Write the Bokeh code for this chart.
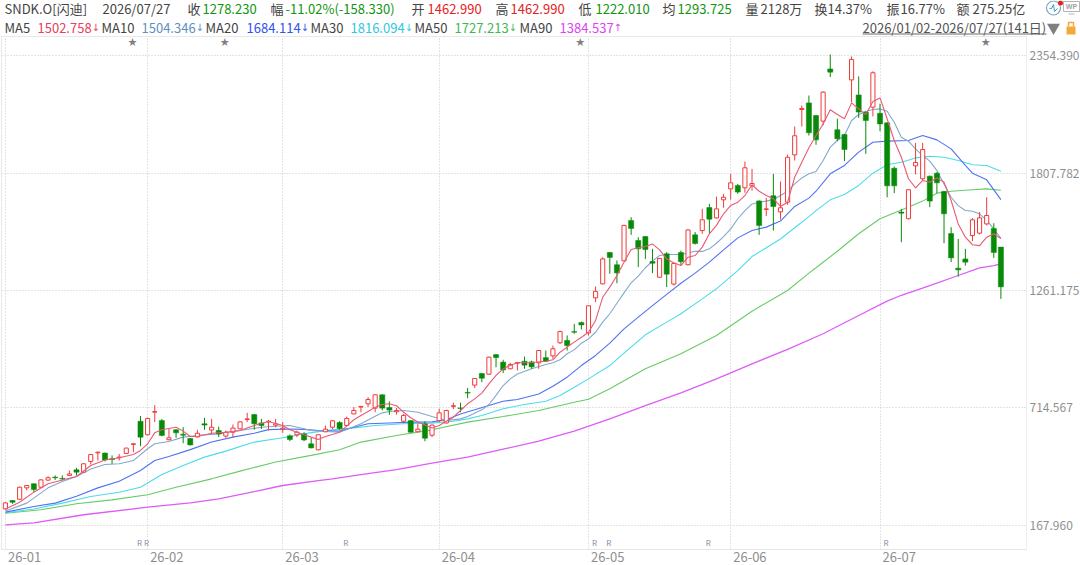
from bokeh.plotting import figure
from bokeh.layouts import column
from bokeh.models import Range1d, FixedTicker, PrintfTickFormatter, LinearAxis
from bokeh.core.properties import value
from bokeh.embed import file_html
from bokeh.resources import INLINE

month_idx = [0, 20, 39, 61, 82, 102, 123]
month_lbl = ["26-01", "26-02", "26-03", "26-04", "26-05", "26-06", "26-07"]
price_ticks = [167.96, 714.567, 1261.175, 1807.782, 2354.39]
star_idx = [18, 31, 81, 138]
r_idx = [19, 20, 48, 83, 85, 99, 124]

opens = [245,284,290,343,362,346,379,393,387,401, 427,416,466,506,505,478,483,503,545,653, 590,695,656,567,613,593,573,580,641,612, 610,584,602,618,661,684,645,650,635,617, 585,590,594,548,520,604,625,647,633,687, 719,734,714,776,717,697,653,656,604,641, 588,656,645,722,715,787,821,875,872,963, 928,897,923,932,929,925,949,957,1018,1029, 1070,1112,1064,1227,1292,1438,1381,1399,1587,1494, 1512,1396,1323,1432,1291,1438,1381,1520,1540,1647, 1599,1683,1734,1750,1739,1748,1678,1638,1702,1627, 1672,1892,2103,2134,2075,2049,2292,2009,1987,2241, 2171,2091,2114,2086,2041,1830,1626,1595,1841,1781, 1793,1807,1722,1526,1365,1408,1517,1528,1571,1550,1462.99]
highs = [276,287,349,356,364,383,397,401,401,424, 436,457,500,512,507,494,501,530,551,677, 669,728,664,618,616,625,575,613,669,664, 628,610,638,652,692,686,664,659,664,649, 591,610,602,576,592,633,657,653,675,719, 724,765,778,778,745,715,687,658,641,653, 637,711,706,739,739,808,854,877,953,966, 939,925,929,954,935,984,982,1005,1075,1052, 1106,1117,1192,1280,1416,1441,1401,1567,1602,1509, 1515,1455,1413,1440,1390,1447,1546,1533,1641,1664, 1698,1711,1804,1757,1861,1827,1681,1692,1804,1768, 1894,2024,2122,2168,2078,2188,2359,2060,1990,2350, 2257,2094,2281,2130,2044,1838,1641,1733,1948,1948, 1796,1812,1725,1556,1501,1455,1598,1626,1695,1574,1462.99]
lows = [242,269,288,331,323,344,377,380,377,399, 400,413,452,470,466,455,470,501,509,537, 587,649,583,564,576,551,540,578,613,594, 579,576,579,615,649,614,617,610,625,599, 560,579,560,527,518,602,616,613,630,685, 695,719,695,703,683,684,644,600,602,560, 579,649,642,709,695,760,807,835,870,904, 877,895,889,897,897,897,928,943,1013,982, 1060,1080,1052,1207,1290,1339,1295,1397,1520,1370, 1408,1342,1320,1277,1284,1377,1378,1475,1525,1528, 1596,1646,1684,1711,1716,1726,1520,1607,1540,1591, 1660,1866,2024,1982,1939,2029,2254,1956,1863,2137, 2064,1897,2071,2002,1695,1714,1486,1592,1801,1773, 1649,1714,1481,1393,1326,1377,1491,1522,1564,1413,1222.01]
closes = [273,276,346,354,335,380,390,390,384,408, 416,455,498,509,473,475,486,528,548,579, 666,698,587,576,599,588,543,597,635,625, 594,602,621,650,664,641,633,653,641,621, 568,602,566,529,590,616,655,619,666,703, 722,754,776,714,705,703,680,602,616,574, 635,692,703,725,712,784,852,853,951,949, 892,917,926,914,906,982,932,990,1070,1005, 1067,1101,1190,1257,1408,1415,1343,1564,1550,1455, 1452,1388,1410,1337,1387,1395,1543,1480,1590,1593, 1641,1695,1762,1719,1832,1759,1564,1641,1652,1646, 1881,1981,2108,1995,1962,2184,2277,1967,1917,2336, 2091,2052,2274,2036,1748,1748,1621,1730,1857,1917, 1677,1762,1618,1413,1357,1393,1590,1599,1610,1438,1278.23]

ma5_i = [0,2,4,6,8,10,12,14,16,18,19,20,21,22,24,25,26,27,29,31,33,35,37,39,40,42,43,44,45,46,47,48,49,50,51,52,53,54,55,56,57,58,59,60,61,62,63,64,65,66,67,68,69,70,71,72,74,76,77,78,79,80,81,82,83,84,85,86,87,88,89,90,91,92,93,94,95,96,97,98,99,100,101,102,103,104,105,106,107,108,109,110,111,112,113,114,115,116,117,118,119,120,121,122,123,124,125,126,127,128,129,130,131,132,133,134,135,136,137,138,139,140]
ma5_v = [245,276,323,362,380,396,447,473,483,498,517,548,599,613,625,607,582,582,597,602,610,633,652,633,613,590,579,568,582,591,602,630,660,680,698,718,731,734,725,695,669,649,636,622,633,653,672,703,734,757,784,827,866,897,912,925,926,932,939,974,998,1021,1044,1067,1122,1230,1277,1331,1393,1452,1460,1466,1478,1450,1408,1390,1377,1416,1424,1463,1525,1564,1618,1657,1672,1703,1753,1723,1703,1688,1652,1672,1788,1858,1925,1982,2036,2102,2080,2060,2134,2106,2080,2140,2157,2060,1959,1881,1781,1739,1773,1765,1785,1765,1680,1571,1509,1474,1470,1509,1525,1502.758]
ma10_i = [0,3,6,8,10,12,14,16,18,19,20,21,23,25,27,30,33,36,38,40,42,43,45,47,48,50,52,53,54,56,58,60,62,64,65,67,68,69,70,71,72,74,76,77,78,79,80,81,82,83,84,85,86,87,88,89,90,91,92,93,95,96,97,98,99,100,101,102,103,104,105,106,107,108,109,110,111,112,113,114,115,116,117,118,119,120,121,122,123,124,125,126,127,128,129,130,131,132,133,134,135,136,137,138,139,140]
ma10_v = [235,272,343,373,396,431,452,455,470,498,525,548,559,579,587,594,610,625,630,633,618,610,605,602,615,641,676,692,698,703,695,675,656,664,675,706,731,773,819,850,873,897,917,925,939,967,985,1016,1036,1067,1114,1153,1202,1250,1297,1328,1367,1398,1424,1429,1429,1436,1444,1443,1455,1481,1512,1548,1595,1633,1664,1672,1677,1685,1703,1723,1757,1785,1804,1815,1866,1928,1959,1982,2052,2080,2094,2103,2106,2095,2044,1974,1956,1920,1889,1863,1819,1757,1695,1656,1633,1630,1618,1587,1548,1504.346]
ma20_i = [0,4,7,10,13,16,19,21,23,26,29,32,35,37,40,42,44,47,49,51,54,57,60,62,64,66,68,70,72,75,77,79,81,83,85,87,89,91,93,95,97,99,101,103,105,107,109,111,113,114,116,118,120,122,124,127,129,131,133,135,136,138,140]
ma20_v = [230,256,272,304,343,374,424,470,489,521,556,579,597,614,617,615,610,607,625,641,645,649,650,660,687,706,726,746,754,780,816,858,912,959,1016,1083,1137,1191,1243,1295,1342,1393,1450,1506,1540,1556,1584,1652,1691,1723,1804,1843,1905,1951,1956,1959,1982,1962,1920,1843,1807,1776,1684.114]
ma30_i = [0,4,8,12,16,19,22,25,28,31,35,39,43,46,49,52,56,60,63,65,67,70,73,76,78,80,82,85,87,90,93,95,98,100,103,105,107,109,111,113,114,116,118,120,122,124,126,128,130,132,134,136,138,140]
ma30_v = [227,245,272,303,323,346,405,447,486,514,556,576,600,613,622,633,641,644,653,664,680,711,731,746,773,811,850,912,970,1055,1114,1153,1222,1269,1354,1419,1460,1501,1553,1605,1633,1683,1708,1750,1807,1846,1858,1878,1886,1881,1866,1846,1843,1816.094]
ma50_i = [0,5,10,15,20,24,29,33,38,43,47,50,55,60,65,70,75,80,82,85,90,95,100,105,110,113,114,117,120,123,126,129,131,133,136,138,140]
ma50_v = [225,241,269,287,311,346,385,421,463,494,520,556,587,613,649,675,703,741,755,804,897,967,1052,1165,1261,1342,1367,1444,1525,1595,1636,1677,1714,1723,1730,1734,1727.213]
ma90_i = [0,4,11,20,26,30,35,39,44,46,50,55,60,65,70,75,80,85,90,95,100,105,110,115,120,124,126,130,134,137,139,140]
ma90_v = [171,180,218,253,273,292,326,354,377,385,405,428,458,486,523,560,607,664,726,785,850,920,987,1060,1145,1212,1239,1284,1331,1366,1377,1384.537]

MA_COL = ["#ea5a74", "#82a8cc", "#4f72f2", "#4cdcea", "#66cc66", "#de5cf6"]
RED = "#f23a3a"
GREEN = "#088a08"
FONT = "Noto Sans CJK SC"
HEAD_H = 36

p = figure(width=1080, height=565 - HEAD_H, output_backend="svg", toolbar_location=None,
           frame_width=1025, frame_height=513, frame_align=False,
           x_range=Range1d(-0.55, 143.6), y_range=Range1d(56.3, 2442.8),
           x_axis_location=None, y_axis_location=None,
           min_border_left=1, min_border_right=54, min_border_top=0, min_border_bottom=16,
           background_fill_color="white", border_fill_color="white",
           outline_line_color="#e8e8e8")

label_pos = [m + 2.7 for m in month_idx]
xax = LinearAxis(ticker=FixedTicker(ticks=label_pos), major_label_overrides=dict(zip(label_pos, month_lbl)))
xax.axis_line_color = "#e6e6e6"
xax.major_tick_line_color = None
xax.minor_tick_line_color = None
xax.major_tick_out = 0
xax.major_tick_in = 0
xax.major_label_standoff = 2
xax.major_label_text_font = FONT
xax.major_label_text_font_size = "13px"
xax.major_label_text_color = "#8f8f8f"
p.add_layout(xax, "below")

yax = LinearAxis(ticker=FixedTicker(ticks=price_ticks), formatter=PrintfTickFormatter(format="%.3f"))
yax.axis_line_color = "#eeeeee"
yax.major_tick_line_color = None
yax.major_tick_out = 0
yax.major_tick_in = 0
yax.major_label_standoff = 3
yax.major_label_text_font = FONT
yax.major_label_text_font_size = "12px"
yax.major_label_text_color = "#8f8f8f"
p.add_layout(yax, "right")

p.xgrid[0].ticker = FixedTicker(ticks=month_idx)
p.ygrid[0].ticker = FixedTicker(ticks=price_ticks)
for g in (p.xgrid[0], p.ygrid[0]):
    g.grid_line_color = "#c8c8c8"
    g.grid_line_dash = "1 2"
    g.grid_line_width = 1

for (xi, yi, c, w) in [(ma90_i, ma90_v, MA_COL[5], 1.3), (ma50_i, ma50_v, MA_COL[4], 1.1),
                       (ma30_i, ma30_v, MA_COL[3], 1.1), (ma20_i, ma20_v, MA_COL[2], 1.1),
                       (ma10_i, ma10_v, MA_COL[1], 1.1)]:
    p.line(xi, yi, line_color=c, line_width=w)

idx = list(range(len(opens)))
up = [i for i in idx if closes[i] >= opens[i]]
dn = [i for i in idx if closes[i] < opens[i]]
p.segment(up, [highs[i] for i in up], up, [lows[i] for i in up], line_color=RED, line_width=1)
p.segment(dn, [highs[i] for i in dn], dn, [lows[i] for i in dn], line_color=GREEN, line_width=1)
p.vbar(x=up, width=0.58, bottom=[opens[i] for i in up], top=[closes[i] for i in up],
       fill_color="white", line_color=RED, line_width=1)
p.vbar(x=dn, width=0.72, bottom=[closes[i] for i in dn], top=[opens[i] for i in dn],
       fill_color=GREEN, line_color=GREEN, line_width=0.5)
p.line(ma5_i, ma5_v, line_color=MA_COL[0], line_width=1.1)

p.text(star_idx, [2418] * len(star_idx), text=["★"] * len(star_idx), text_align="center", text_baseline="middle",
       x_offset=-1, text_font=value(FONT), text_font_size="9px", text_color="#808080")
p.text(r_idx, [89] * len(r_idx), text=["R"] * len(r_idx), text_align="center", text_baseline="middle",
       x_offset=-1, text_font=value(FONT), text_font_size="8px", text_color="#8090a8")

# header band: its own little figure, scaled 1:1 to pixels
hd = figure(width=1080, height=HEAD_H, output_backend="svg", toolbar_location=None, frame_align=False,
            x_range=Range1d(0, 1080), y_range=Range1d(HEAD_H, 0), x_axis_location=None, y_axis_location=None,
            min_border=0, outline_line_color=None, background_fill_color="white", border_fill_color="white")
hd.xgrid.visible = False
hd.ygrid.visible = False

def txt(x, y, t, c, size="13px", font=FONT):
    hd.text([x], [y], text=[t], text_color=c, text_font=value(font), text_font_size=size,
            text_align="left", text_baseline="middle")

HR, HG, DK = "#e52222", "#109410", "#444444"
for x, t, c in [(4, "SNDK.O[闪迪]", DK), (102, "2026/07/27", DK), (187, "收", DK), (202, "1278.230", HG),
                (270, "幅", DK), (285, "-11.02%(-158.330)", HG), (411, "开", DK), (427, "1462.990", HR),
                (495, "高", DK), (510, "1462.990", HR), (578, "低", DK), (595, "1222.010", HG),
                (662, "均", DK), (677, "1293.725", HG), (745, "量", DK), (760, "2128万", DK),
                (814, "换", DK), (827, "14.37%", DK), (886, "振", DK), (900, "16.77%", DK),
                (956, "额", DK), (972, "275.25亿", DK)]:
    txt(x, 8, t, c)
for x, t, c in [(4, "MA5", DK), (101, "MA10", DK), (205, "MA20", DK), (310, "MA30", DK), (414, "MA50", DK),
                (519, "MA90", DK), (862, "2026/01/02-2026/07/27(141日)", "#555555")]:
    txt(x, 27, t, c)
for x, t, arrow, c in [(37, "1502.758", "↓", "#e8405e"), (141, "1504.346", "↓", "#5f8fc0"), (246, "1684.114", "↓", "#3050f0"),
                       (350, "1816.094", "↓", "#30c8e0"), (454, "1727.213", "↓", "#40b850"), (559, "1384.537", "↑", "#e040f8")]:
    txt(x, 27, t, c)
    txt(x + 54, 27, arrow, c, "10px", "DejaVu Sans")

hd.line([862, 1046], [33.5, 33.5], line_color="#666666", line_width=1)
hd.scatter([1053], [27], marker="inverted_triangle", size=13, fill_color="#808080", line_color=None)
hd.quad(left=[1066], right=[1075], top=[26], bottom=[34], fill_color="#f3a93a", line_color=None)
hd.line([1068, 1068, 1073, 1073], [26, 22, 22, 26], line_color="#f3a93a", line_width=1.5)
hd.scatter([1053], [7.5], marker="circle", size=14, fill_color="white", line_color="#7fa8bc", line_width=1.2)
hd.line([1049, 1051, 1053, 1054, 1057], [8, 8, 4, 11, 8], line_color="#3aa0c0", line_width=1)
hd.scatter([1060], [2.5], marker="circle", size=5, fill_color="#e82020", line_color=None)
hd.quad(left=[1063], right=[1079], top=[1], bottom=[11], fill_color="white", line_color="#b5b5b5")
hd.line([1068, 1074], [13.5, 13.5], line_color="#b5b5b5", line_width=1)
hd.text([1071], [6], text=["WP"], text_color="#a0a0a0", text_font=value("Liberation Sans"), text_font_size="7px",
        text_font_style="bold", text_align="center", text_baseline="middle")

page = column(hd, p, spacing=0)
open("out.html", "w").write(file_html(page, INLINE))
